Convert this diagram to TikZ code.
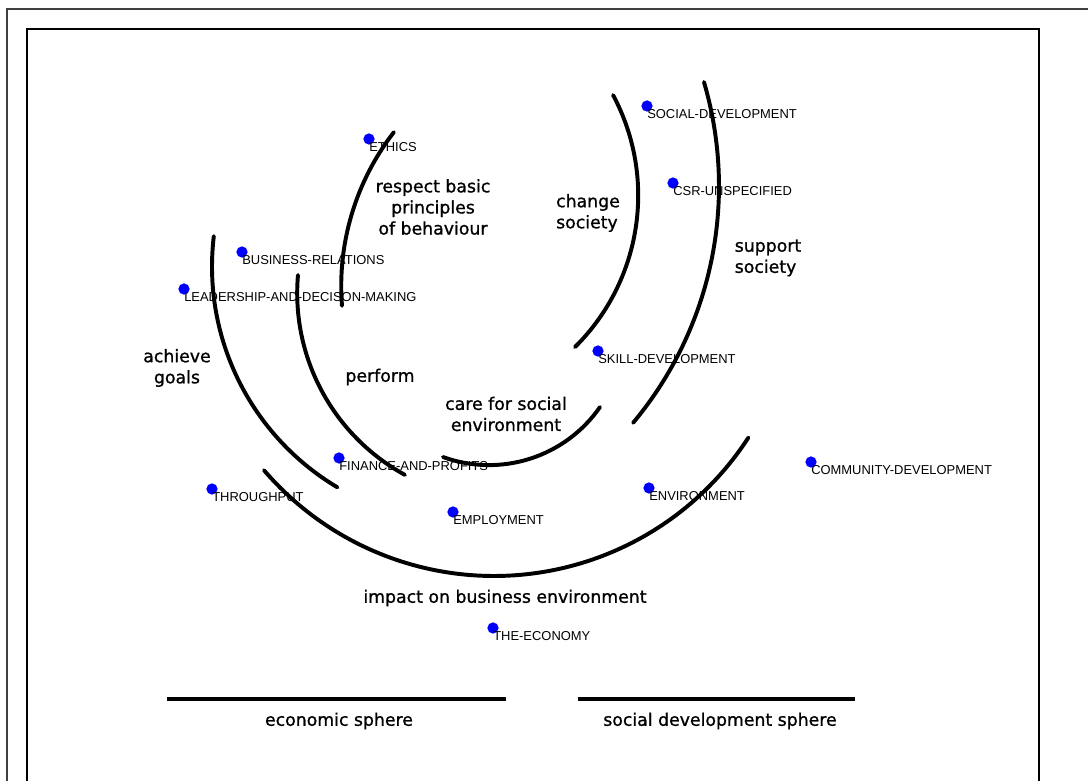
\documentclass[tikz,border=0pt]{standalone}
\usepackage{fontspec}
\setmainfont{DejaVu Sans}
\newfontfamily\tagfont{Liberation Sans}
\newfontfamily\themefont[FakeBold=1]{DejaVu Sans}
\usetikzlibrary{positioning}

\begin{document}
\begin{tikzpicture}[x=0.025cm, y=-0.025cm,
    dot/.style = {circle, fill=blue, minimum size=#1,
                inner sep=0pt, outer sep=0pt},
    dot/.default = 8pt,  % size of the topic marker
    tag/.style = {font=\tagfont\fontsize{9.2}{10}\selectfont,
                inner sep=0pt, anchor=west},
    theme/.style = {font=\themefont\fontsize{12.3}{15}\selectfont,
                align=center, inner sep=0pt},
    arcline/.style = {line width=2.8pt, line cap=round}
                    ]
        \useasboundingbox (0,0) rectangle (1088,781);
        % frames
        \draw [black!75,line width=2pt] (7,781) -- (7,9) -- (1088,9);
        \draw [black,line width=1.2pt] (27,781) -- (27,29) -- (1039,29) -- (1039,781);
        % arcs: centre x / centre y / radius / from / to
        \foreach \cx/\cy/\r/\a/\b in {592.4/286.1/251.2/217.8/175.5, 469/266.6/257/186.8/120.8,
                504.5/293.1/207.3/185/118.7, 489/329.9/135.2/109.9/34.8,
                424.9/195.5/213.3/-28.1/45.3, 350.1/186.2/368.9/-16.4/39.9,
                494/273/303/139.4/32.9}
            \draw [arcline] (\cx,\cy) ++(\a:\r) arc[start angle=\a, end angle=\b, radius=\r];
        % topics
        \foreach \x/\y/\t/\n in {369/139/ETHICS/ethics, 647/106/SOCIAL-DEVELOPMENT/social,
                673/183/CSR-UNSPECIFIED/csr, 242/252/BUSINESS-RELATIONS/business,
                184/289/LEADERSHIP-AND-DECISON-MAKING/leadership, 598/351/SKILL-DEVELOPMENT/skill,
                339/458/FINANCE-AND-PROFITS/finance, 212/489/THROUGHPUT/throughput,
                453/512/EMPLOYMENT/employment, 649/488/ENVIRONMENT/environment,
                811/462/COMMUNITY-DEVELOPMENT/community, 493/628/THE-ECONOMY/economy}
        {
            \node[dot] (\n) at (\x,\y) {};
            \node[tag] (\n-tag) at ([yshift=-5.6pt]\n.center) {\t};
        }
        % themes
        \node[theme] (respect) at (433,207) {respect basic\\principles\\of behaviour};
        \node[theme, align=left] (change) at (588,213) {change\\society};
        \node[theme, align=left] (support) at (768,258) {support\\society};
        \node[theme] (achieve) at (177,368) {achieve\\goals};
        \node[theme] (perform) at (380,377) {perform};
        \node[theme] (care) at (506,414) {care for social\\environment};
        \node[theme] (impact) at (505,598) {impact on business environment};
        % spheres
        \coordinate (econ-l) at (167,699);
        \coordinate (econ-r) at (506,699);
        \coordinate (soc-l) at (578,699);
        \coordinate (soc-r) at (855,699);
        \draw [line width=2.4pt] (econ-l) -- (econ-r);
        \draw [line width=2.4pt] (soc-l) -- (soc-r);
        \node[theme] (econ) at (339,721) {economic sphere};
        \node[theme] (soc) at (720,721) {social development sphere};
    \end{tikzpicture}
\end{document}
